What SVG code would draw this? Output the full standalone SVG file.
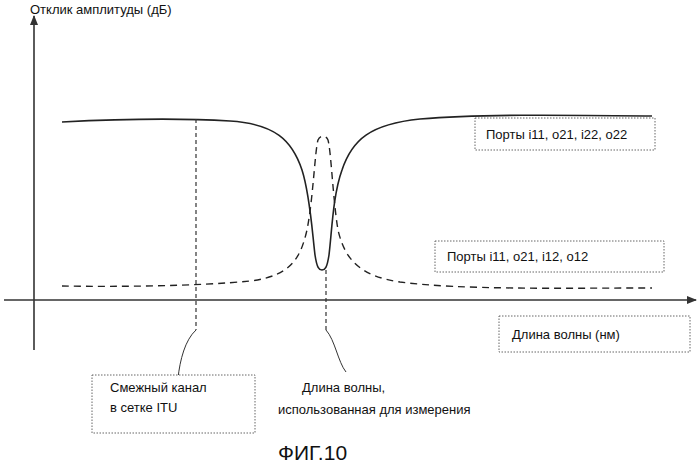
<svg xmlns="http://www.w3.org/2000/svg" width="699" height="467" viewBox="0 0 699 467">
<style>
text{font-family:"Liberation Sans",Arial,sans-serif;font-size:13px;fill:#111}
.box{fill:#fff;stroke:#666;stroke-width:1;stroke-dasharray:1.5 1.5}
.ax{stroke:#333;stroke-width:1.6;fill:none}
.c{fill:none;stroke:#222;stroke-width:1.6}
.d{fill:none;stroke:#222;stroke-width:1.4;stroke-dasharray:7 5}
.v{fill:none;stroke:#333;stroke-width:1.2;stroke-dasharray:4 3}
.l{fill:none;stroke:#333;stroke-width:1}
</style>
<defs><marker id="ah" markerWidth="10" markerHeight="8" refX="9" refY="4" orient="auto" markerUnits="userSpaceOnUse"><path d="M0,0 L10,4 L0,8 Z" fill="#333"/></marker></defs>
<g id="axes">
<line class="ax" x1="34" y1="350" x2="34" y2="16" marker-end="url(#ah)"/>
<line class="ax" x1="4" y1="300" x2="696" y2="300" marker-end="url(#ah)"/>
<text x="30" y="14">Отклик амплитуды (дБ)</text>
</g>
<g id="connectors">
<path class="c" d="M62,122 C120,119 180,118 230,121 C275,124 292,140 302,170 C310,195 312,230 315,255 C317,268 319,270 322,270 C325,270 327,268 329,255 C332,230 333,195 342,170 C352,140 370,124 420,119 C480,114 560,115 652,116"/>
<path class="d" d="M62,286 C120,287 200,286 250,281 C290,276 300,260 307,230 C313,200 315,150 318,140 C320,135 326,135 328,140 C331,150 333,200 338,230 C345,260 360,276 400,282 C460,290 560,288 652,288"/>
<path class="v" d="M196,119 V330"/>
<path class="v" d="M326,270 V330"/>
<path class="l" d="M196,330 C185,340 180,360 178,378"/>
<path class="l" d="M326,330 C335,340 338,362 346,372"/>
</g>
<g id="n1"><rect class="box" x="475" y="118" width="180" height="32"/><text x="486" y="139">Порты i11, o21, i22, o22</text></g>
<g id="n2"><rect class="box" x="435" y="241" width="229" height="31"/><text x="447" y="261">Порты i11, o21, i12, o12</text></g>
<g id="n3"><rect class="box" x="499" y="316" width="191" height="36"/><text x="512" y="339">Длина волны (нм)</text></g>
<g id="n4"><rect class="box" x="92" y="375" width="163" height="58"/><text x="110" y="392">Смежный канал</text><text x="110" y="412">в сетке ITU</text></g>
<g id="n5"><text x="302" y="392">Длина волны,</text><text x="278" y="414">использованная для измерения</text></g>
<text x="278" y="460" style="font-size:21px">ФИГ.10</text>
</svg>
